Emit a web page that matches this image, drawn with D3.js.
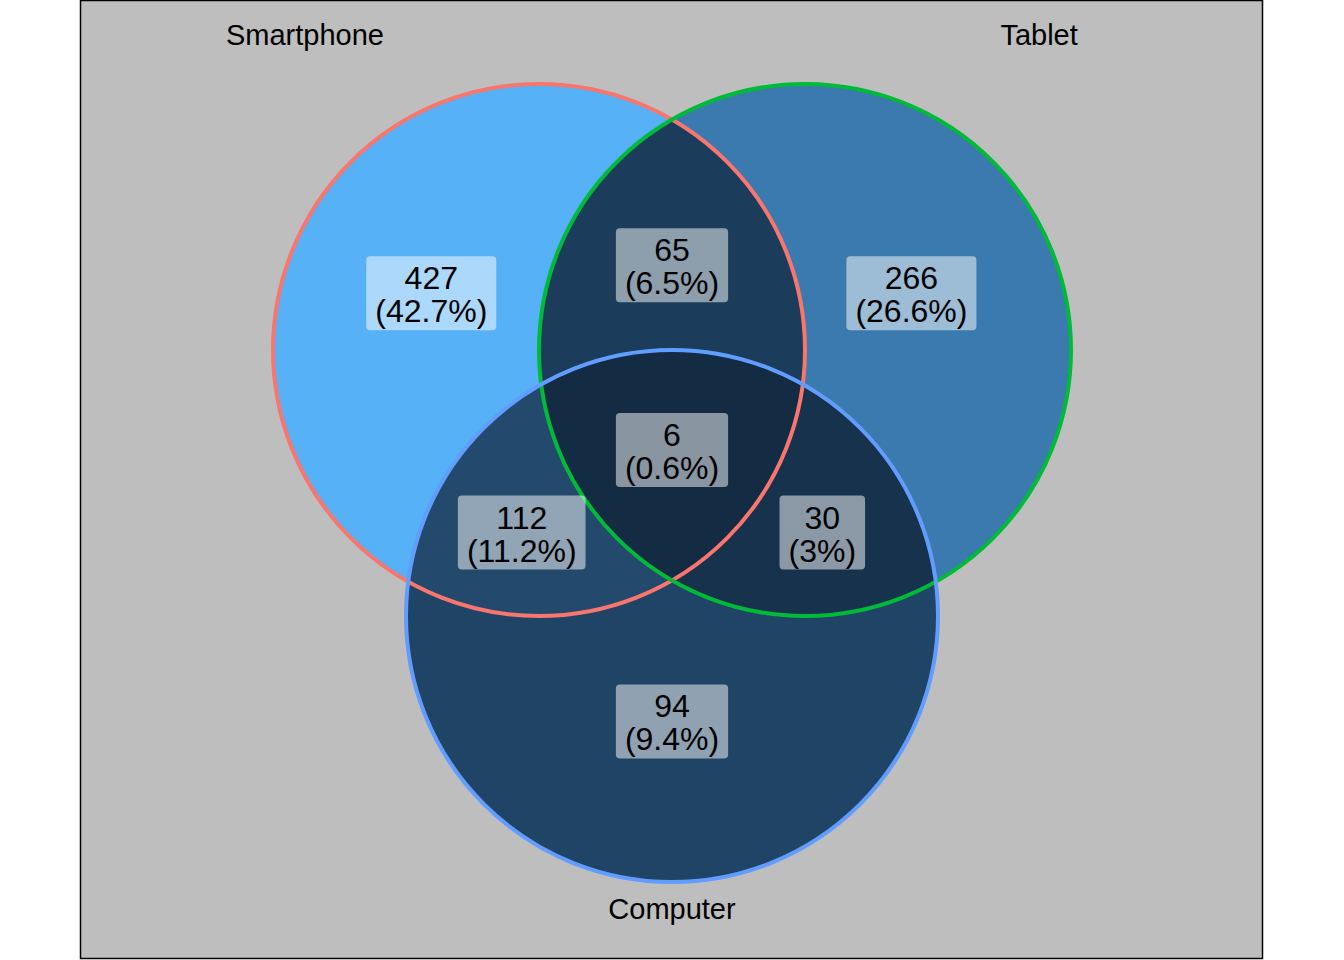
<!DOCTYPE html>
<html><head><meta charset="utf-8">
<script src="https://cdn.jsdelivr.net/npm/d3@7"></script>
<style>body{margin:0;background:#fff}text{font-family:Arial,"Liberation Sans",sans-serif}</style>
</head><body><div class="venn"></div>
<script>
const sets = ['Smartphone', 'Tablet', 'Computer'];
const setColors = ['#F8766D', '#00BA38', '#619CFF'];
// circle centres in data units, radius 2
const centersX = [-1, 1, 0];
const centersY = [1, 1, -1];
const radius = 2;
// regions: membership, count, label position (data units)
const regionSets = [[0], [1], [2], [0,1], [0,2], [1,2], [0,1,2]];
const regionCounts = [427, 266, 94, 65, 112, 30, 6];
const regionLabelX = [-1.81, 1.80, 0, 0, -1.13, 1.13, 0];
const regionLabelY = [1.42, 1.42, -1.8, 1.63, -0.38, -0.38, 0.24];
const setLabelX = [-2.76, 2.76, 0];
const setLabelY = [3.37, 3.37, -3.2];

const width = 1344, height = 960;
const x = d3.scaleLinear().domain([-1, 1]).range([539, 805]);
const y = d3.scaleLinear().domain([1, -1]).range([350, 616]);
const rpx = x(radius) - x(0);
const total = d3.sum(regionCounts);
const fill = d3.scaleLinear().domain(d3.extent(regionCounts)).range(['#132B43', '#56B1F7']).interpolate(d3.interpolateLab);

const svg = d3.select('.venn').append('svg').attr('width', width).attr('height', height);
svg.append('rect').attr('x', 80.5).attr('y', 0.5).attr('width', 1182).attr('height', 958)
	.attr('fill', '#BEBEBE').attr('stroke', '#000').attr('stroke-width', 1.5);

const defs = svg.append('defs');
sets.forEach((s, i) => {
	defs.append('clipPath').attr('id', 'clip' + i).append('circle')
		.attr('cx', x(centersX[i])).attr('cy', y(centersY[i])).attr('r', rpx);
});
regionSets.forEach((members, k) => {
	const m = defs.append('mask').attr('id', 'mask' + k);
	m.append('rect').attr('width', width).attr('height', height).attr('fill', '#fff');
	[0,1,2].filter(i => !members.includes(i)).forEach(i => {
		m.append('circle').attr('cx', x(centersX[i])).attr('cy', y(centersY[i])).attr('r', rpx).attr('fill', '#000');
	});
});
regionSets.forEach((members, k) => {
	let g = svg.append('g').attr('mask', 'url(#mask' + k + ')');
	members.forEach(i => { g = g.append('g').attr('clip-path', 'url(#clip' + i + ')'); });
	g.append('rect').attr('width', width).attr('height', height).attr('fill', fill(regionCounts[k]));
});

svg.selectAll('.edge').data(sets).enter().append('circle').attr('class', 'edge')
	.attr('cx', (d, i) => x(centersX[i])).attr('cy', (d, i) => y(centersY[i])).attr('r', rpx)
	.attr('fill', 'none').attr('stroke', (d, i) => setColors[i]).attr('stroke-width', 4);

const labels = svg.selectAll('.lab').data(regionCounts).enter().append('g').attr('class', 'lab')
	.attr('transform', (d, i) => `translate(${x(regionLabelX[i])},${y(regionLabelY[i])})`);
labels.each(function(d) {
	const g = d3.select(this);
	const pct = '(' + (Math.round(d / total * 1000) / 10) + '%)';
	const t = g.append('text').attr('text-anchor', 'middle').attr('font-size', 32);
	t.append('tspan').attr('x', 0).attr('y', -5).text(d);
	t.append('tspan').attr('x', 0).attr('y', 28).text(pct);
	const bb = t.node().getBBox();
	g.insert('rect', 'text').attr('x', bb.x - 9).attr('y', -38).attr('width', bb.width + 18)
		.attr('height', 74).attr('rx', 4).attr('fill', '#fff').attr('fill-opacity', 0.5);
});

svg.selectAll('.setname').data(sets).enter().append('text').attr('class', 'setname')
	.attr('x', (d, i) => x(setLabelX[i])).attr('y', (d, i) => y(setLabelY[i]) + 10)
	.attr('text-anchor', 'middle').attr('font-size', 29).text(d => d);
</script></body></html>
